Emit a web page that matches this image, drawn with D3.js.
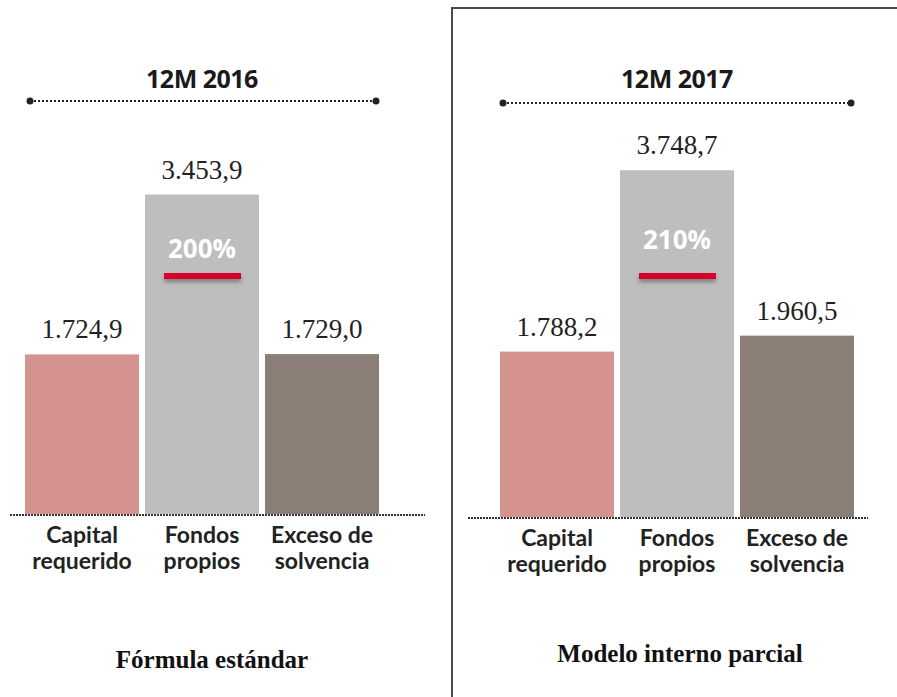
<!DOCTYPE html>
<html>
<head>
<meta charset="utf-8">
<script src="https://cdn.jsdelivr.net/npm/d3@7"></script>
<style>
  body { margin: 0; background: #fff; }
  svg { display: block; }
</style>
</head>
<body>
<div class="chart"></div>
<script>
// data
var categories = ["Capital requerido", "Fondos propios", "Exceso de solvencia"];
var periods = ["12M 2016", "12M 2017"];
var methods = ["Fórmula estándar", "Modelo interno parcial"];
var values2016 = [1724.9, 3453.9, 1729.0];
var values2017 = [1788.2, 3748.7, 1960.5];
var ratios = ["200%", "210%"];
var colors = ["#d5938f", "#bebebe", "#8b7e77"];

var svgWidth = 897;
var svgHeight = 697;

var svg = d3.select(".chart")
  .append("svg")
  .attr("width", svgWidth)
  .attr("height", svgHeight);

// drop shadow for the red mark
var defs = svg.append("defs");
var f = defs.append("filter").attr("id", "shadow").attr("x", "-20%").attr("y", "-50%").attr("width", "140%").attr("height", "300%");
f.append("feDropShadow").attr("dx", 0).attr("dy", 3).attr("stdDeviation", 2).attr("flood-color", "#000").attr("flood-opacity", 0.35);

// border round the second panel
svg.append("rect")
  .attr("x", 452)
  .attr("y", 8)
  .attr("width", 500)
  .attr("height", 720)
  .attr("fill", "none")
  .attr("stroke", "#4a4a4a")
  .attr("stroke-width", 2);

var pxPerUnit = 0.0925;

// panel layout
var panels = [
  { values: values2016, x0: 22, x1: 382, base: 514, lineX: [10, 425], titleX: 202, titleLine: [30, 376], footX: 212, footY: 668, pctY: 258 },
  { values: values2017, x0: 497, x1: 857, base: 517, lineX: [468, 868], titleX: 677, titleLine: [503, 851], footX: 680, footY: 662, pctY: 249 }
];

function fmt(v) {
  var s = v.toFixed(1).split(".");
  var int = s[0].replace(/\B(?=(\d{3})+(?!\d))/g, ".");
  return int + "," + s[1];
}

panels.forEach(function(p, i) {
  var g = svg.append("g");

  var x = d3.scaleBand()
    .domain(categories)
    .range([p.x0, p.x1])
    .paddingInner(0.05)
    .paddingOuter(0.025);

  var y = d3.scaleLinear()
    .domain([0, 4000])
    .range([p.base, p.base - 4000 * pxPerUnit]);

  var data = categories.map(function(c, j) { return { cat: c, value: p.values[j], color: colors[j] }; });

  // title
  g.append("text")
    .attr("x", p.titleX)
    .attr("y", 88)
    .attr("text-anchor", "middle")
    .attr("font-family", "Open Sans, sans-serif")
    .attr("font-weight", "bold")
    .attr("font-size", "25px")
    .attr("letter-spacing", "-0.5px")
    .attr("fill", "#1a1a1a")
    .text(periods[i]);

  // dotted rule under title
  var ty = i === 0 ? 101 : 103;
  g.append("line")
    .attr("x1", p.titleLine[0]).attr("x2", p.titleLine[1])
    .attr("y1", ty).attr("y2", ty)
    .attr("stroke", "#222")
    .attr("stroke-width", 2)
    .attr("stroke-dasharray", "2,2");
  g.selectAll(".end")
    .data(p.titleLine)
    .enter().append("circle")
    .attr("cx", d => d)
    .attr("cy", ty)
    .attr("r", 3.5)
    .attr("fill", "#222");

  // bars
  g.selectAll(".bar")
    .data(data)
    .enter().append("rect")
    .attr("x", d => x(d.cat))
    .attr("y", d => y(d.value))
    .attr("width", x.bandwidth())
    .attr("height", d => p.base - y(d.value))
    .attr("fill", d => d.color);

  // value labels
  g.selectAll(".val")
    .data(data)
    .enter().append("text")
    .attr("x", d => x(d.cat) + x.bandwidth() / 2)
    .attr("y", d => y(d.value) - 16)
    .attr("text-anchor", "middle")
    .attr("font-family", "Liberation Serif, serif")
    .attr("font-size", "27px")
    .attr("fill", "#222")
    .text(d => fmt(d.value));

  // ratio inside the middle bar
  var cx = x(categories[1]) + x.bandwidth() / 2;
  g.append("text")
    .attr("x", cx)
    .attr("y", p.pctY)
    .attr("text-anchor", "middle")
    .attr("font-family", "Open Sans, sans-serif")
    .attr("font-weight", "bold")
    .attr("font-size", "26px")
    .attr("fill", "#fff")
    .text(ratios[i]);
  g.append("rect")
    .attr("x", cx - 38)
    .attr("y", 273)
    .attr("width", 77)
    .attr("height", 6)
    .attr("fill", "#d8002c")
    .attr("filter", "url(#shadow)");

  // dotted baseline
  g.append("line")
    .attr("x1", p.lineX[0]).attr("x2", p.lineX[1])
    .attr("y1", p.base + 1).attr("y2", p.base + 1)
    .attr("stroke", "#333")
    .attr("stroke-width", 2)
    .attr("stroke-dasharray", "2,1");

  // category labels, one text per line
  data.forEach(function(d) {
    var words = d.cat.split(" ");
    var lines = words.length === 3 ? [words[0] + " " + words[1], words[2]] : words;
    lines.forEach(function(l, k) {
      g.append("text")
        .attr("x", x(d.cat) + x.bandwidth() / 2)
        .attr("y", p.base + 29 + k * 26)
        .attr("text-anchor", "middle")
        .attr("font-family", "Lato, sans-serif")
        .attr("font-weight", "bold")
        .attr("font-size", "23px")
        .attr("fill", "#222")
        .text(l);
    });
  });

  // footer
  g.append("text")
    .attr("x", p.footX)
    .attr("y", p.footY)
    .attr("text-anchor", "middle")
    .attr("font-family", "Liberation Serif, serif")
    .attr("font-weight", "bold")
    .attr("font-size", "25px")
    .attr("fill", "#111")
    .text(methods[i]);
});
</script>
</body>
</html>
